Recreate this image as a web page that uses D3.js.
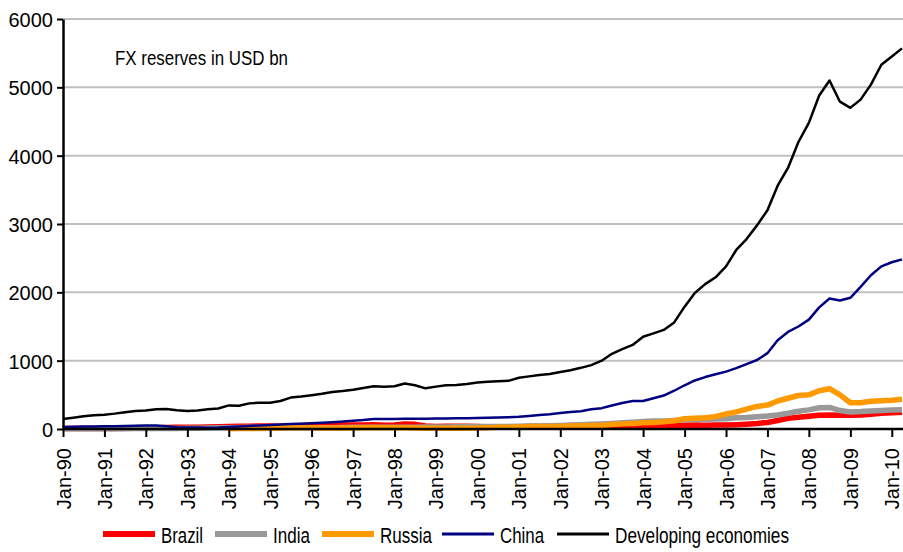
<!DOCTYPE html>
<html>
<head>
<meta charset="utf-8">
<script src="https://d3js.org/d3.v7.min.js"></script>
<style>
  body { margin: 0; background: #fff; }
  svg { display: block; font-family: "Liberation Sans", Arial, sans-serif; }
</style>
</head>
<body>
<div id="chart"></div>
<script>

  // quarterly readings, Jan-90 .. Apr-10 (USD bn)
  let quarters = d3.timeMonth.every(3).range(new Date(1990, 0, 1), new Date(2010, 4, 1));

  let brazil = [
    8, 8, 9, 9,  9, 9, 10, 12,  15, 20, 23, 24,  25, 27, 29, 32,
    35, 40, 42, 43,  45, 40, 48, 50,  55, 58, 60, 60,  60, 58, 62, 55,
    58, 75, 68, 45,  36, 42, 42, 40,  36, 30, 30, 31,  33, 35, 38, 36,
    35, 33, 38, 37,  40, 45, 48, 52,  52, 50, 50, 51,  55, 60, 56, 60,
    57, 62, 70, 80,  95, 125, 158, 172,  185, 200, 205, 200,  200, 205, 215, 230,
    238, 245
  ];

  let india = [
    4, 4, 3, 2,  2, 2, 4, 6,  6, 7, 7, 8,  10, 12, 14, 17,
    20, 22, 24, 25,  22, 20, 18, 17,  18, 19, 20, 21,  24, 26, 27, 27,
    27, 27, 27, 28,  30, 31, 32, 33,  35, 36, 37, 38,  40, 43, 45, 48,
    52, 57, 63, 70,  75, 82, 90, 100,  110, 118, 118, 125,  135, 138, 140, 145,
    150, 165, 170, 180,  190, 205, 230, 260,  280, 310, 315, 270,  250, 255, 265, 272,
    278, 280
  ];

  // no russian figures before 1994
  let russia = [
    null, null, null, null,  null, null, null, null,  null, null, null, null,  null, null, null, null,
    5, 6, 7, 8,  10, 14, 18, 18,  17, 15, 15, 15,  15, 20, 23, 20,
    17, 18, 15, 12,  11, 11, 12, 12,  14, 20, 25, 27,  30, 35, 38, 38,
    40, 45, 48, 50,  55, 65, 75, 80,  90, 95, 105, 120,  150, 157, 165, 180,
    220, 250, 290, 330,  350, 410, 450, 490,  500, 560, 590, 500,  385, 385, 405, 415,
    420, 434
  ];

  let china = [
    30, 32, 35, 38,  40, 42, 45, 48,  50, 52, 40, 25,  22, 22, 20, 22,
    28, 35, 45, 52,  58, 65, 72, 78,  85, 92, 100, 108,  120, 130, 145, 148,
    148, 150, 150, 150,  152, 154, 156, 158,  160, 165, 168, 172,  178, 190, 205, 215,
    235, 250, 260, 290,  305, 345, 380, 410,  410, 450, 490, 560,  640, 710, 760, 800,
    840, 890, 950, 1010,  1110, 1300, 1420, 1500,  1600, 1780, 1910, 1880,  1920, 2080, 2250, 2380,
    2440, 2483
  ];

  let developing = [
    145, 165, 185, 200,  210, 225, 245, 262,  270, 290, 292, 275,  262, 272, 288, 300,
    345, 340, 375, 385,  385, 410, 460, 475,  495, 515, 540, 555,  575, 600, 625, 620,
    625, 665, 640, 595,  620, 640, 645, 660,  680, 690, 700, 705,  750, 770, 790, 805,
    835, 860, 895, 935,  1000, 1100, 1170, 1230,  1350, 1400, 1450, 1560,  1790, 1990, 2120, 2220,
    2380, 2620, 2780, 2980,  3200, 3560, 3820, 4200,  4480, 4880, 5100, 4790,  4700, 4820, 5040, 5330,
    5450, 5570
  ];

  let seriesNames = ['Brazil', 'India', 'Russia', 'China', 'Developing economies'];
  let yTicks = [0, 1000, 2000, 3000, 4000, 5000, 6000];
  let xTicks = d3.timeYear.range(new Date(1990, 0, 1), new Date(2010, 1, 1));
  let title = 'FX reserves in USD bn';

  let width = 903;
  let height = 552;
  let plotLeft = 63;
  let plotRight = 903;
  let plotTop = 19;
  let plotBottom = 429;

  let series = [
    { name: seriesNames[0], values: brazil, color: '#ff0000', w: 5.5 },
    { name: seriesNames[1], values: india, color: '#999999', w: 5.5 },
    { name: seriesNames[2], values: russia, color: '#ff9900', w: 5.5 },
    { name: seriesNames[3], values: china, color: '#000080', w: 2.5 },
    { name: seriesNames[4], values: developing, color: '#000000', w: 2.5 },
  ];

  let svg = d3.select('#chart')
    .append('svg')
    .attr('width', width)
    .attr('height', height);

  let x = d3.scaleTime()
    .domain([quarters[0], quarters[quarters.length - 1]])
    .range([plotLeft, 902]);

  let y = d3.scaleLinear()
    .domain([0, 6000])
    .range([plotBottom, plotTop]);

  //gridlines
  svg.append('g')
    .selectAll('line')
    .data(yTicks.slice(1))
    .enter().append('line')
    .attr('x1', plotLeft)
    .attr('x2', plotRight)
    .attr('y1', (d) => y(d))
    .attr('y2', (d) => y(d))
    .attr('stroke', '#c0c0c0')
    .attr('stroke-width', 2);

  //series lines, drawn in legend order
  let line = d3.line()
    .defined((d) => d.v != null)
    .x((d) => x(d.date))
    .y((d) => y(d.v));

  svg.append('g')
    .selectAll('path')
    .data(series)
    .enter().append('path')
    .attr('d', (s) => line(s.values.map((v, i) => ({ date: quarters[i], v: v }))))
    .attr('fill', 'none')
    .attr('stroke', (s) => s.color)
    .attr('stroke-width', (s) => s.w)
    .attr('stroke-linejoin', 'round');

  //y axis
  let yAxis = svg.append('g')
    .attr('transform', `translate(${plotLeft},0)`)
    .call(d3.axisLeft(y).tickValues(yTicks).tickFormat(d3.format('d')).tickSize(6).tickPadding(4).tickSizeOuter(0));

  yAxis.select('.domain').attr('stroke', '#000').attr('stroke-width', 2.5);
  yAxis.selectAll('.tick line').attr('stroke', '#000').attr('stroke-width', 2);
  yAxis.selectAll('text')
    .attr('font-size', 20)
    .attr('font-family', '"Liberation Sans", Arial, sans-serif')
    .attr('fill', '#000')
    .attr('dy', '0.38em');

  //x axis
  let xAxis = svg.append('g')
    .attr('transform', `translate(0,${plotBottom})`)
    .call(d3.axisBottom(x).tickValues(xTicks).tickSize(8).tickSizeOuter(0).tickFormat(d3.timeFormat('Jan-%y')));

  xAxis.select('.domain').attr('d', `M${plotLeft},0H${plotRight}`).attr('stroke', '#000').attr('stroke-width', 2.5);
  xAxis.selectAll('.tick line').attr('stroke', '#000').attr('stroke-width', 2);
  xAxis.selectAll('text')
    .attr('font-size', 20)
    .attr('font-family', '"Liberation Sans", Arial, sans-serif')
    .attr('fill', '#000')
    .attr('transform', 'rotate(-90)')
    .attr('text-anchor', 'end')
    .attr('x', -19)
    .attr('y', 0)
    .attr('dy', '0.35em');

  //title inside the plot
  svg.append('text')
    .attr('x', 115)
    .attr('y', 65)
    .attr('font-size', 21)
    .attr('font-family', '"Liberation Sans Narrow", "Arial Narrow", "Liberation Sans", sans-serif')
    .attr('textLength', 173)
    .attr('lengthAdjust', 'spacingAndGlyphs')
    .text(title);

  //legend
  let legendX = [103, 215, 322, 442, 557];
  let legendTextW = [42, 37, 52, 44, 174];

  let legend = svg.append('g')
    .selectAll('g')
    .data(series)
    .enter().append('g')
    .attr('transform', (d, i) => `translate(${legendX[i]},534)`);

  legend.append('line')
    .attr('x1', 0)
    .attr('x2', 52)
    .attr('stroke', (d) => d.color)
    .attr('stroke-width', (d) => d.w + 0.5);

  legend.append('text')
    .attr('x', 58)
    .attr('y', 9)
    .attr('font-size', 22)
    .attr('font-family', '"Liberation Sans Narrow", "Arial Narrow", "Liberation Sans", sans-serif')
    .attr('textLength', (d, i) => legendTextW[i])
    .attr('lengthAdjust', 'spacingAndGlyphs')
    .text((d) => d.name);

</script>
</body>
</html>
